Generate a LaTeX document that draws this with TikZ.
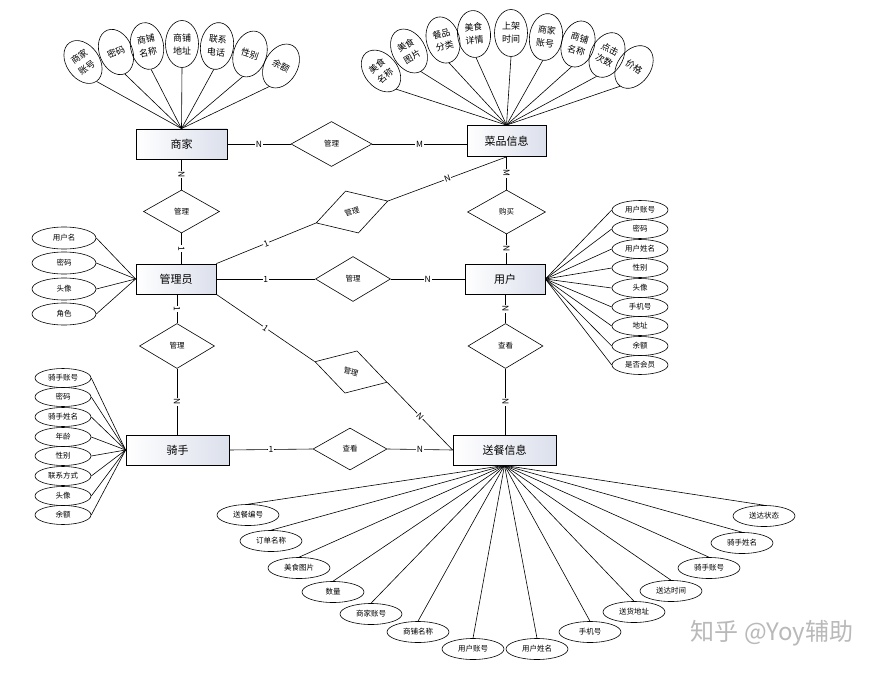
\documentclass[tikz,border=0pt]{standalone}
\usepackage{fontspec}
\newfontfamily\cjk{Noto Sans CJK SC}
\usetikzlibrary{shapes.geometric,calc}
\definecolor{entR}{HTML}{DCE0EC}
\begin{document}
\begin{tikzpicture}[x=1pt,y=-1pt, line width=0.6pt,
  ent/.style={draw, rectangle, line width=0.8pt, minimum height=30pt, left color=white, right color=entR, font=\cjk\fontsize{11}{12}\selectfont, inner sep=0pt},
  rel/.style={draw, diamond, inner sep=0pt, minimum width=75pt, minimum height=44pt, fill=white, font=\cjk\fontsize{7.5}{8}\selectfont},
  attv/.style={draw, ellipse, inner sep=0pt, minimum width=33pt, minimum height=47pt, align=center, font=\cjk\fontsize{9}{13}\selectfont},
  atth/.style={draw, ellipse, inner sep=0pt, minimum width=56pt, minimum height=19pt, font=\cjk\fontsize{7.5}{8}\selectfont},
  lbl/.style={fill=white, inner sep=0.8pt, font=\cjk\fontsize{8.5}{9}\selectfont},
]
\useasboundingbox[fill=white] (0,0) rectangle (889,674);

% entities
\node[ent, minimum width=91pt] (sj) at (181.5,144) {商家};
\node[ent, minimum width=79pt, minimum height=31pt] (cp) at (506.5,141) {菜品信息};
\node[ent, minimum width=80pt] (gly) at (176,279) {管理员};
\node[ent, minimum width=80pt] (yh) at (505,279) {用户};
\node[ent, minimum width=103pt] (qs) at (177.5,450) {骑手};
\node[ent, minimum width=103pt] (sc) at (504.5,450) {送餐信息};

% relationships
\node[rel, minimum width=81pt, minimum height=45pt] (dTop) at (331.5,144) {管理};
\node[rel, minimum width=76pt, minimum height=43pt] (d1) at (181.5,211.5) {管理};
\node[rel, rotate=17] (dR) at (352,212) {管理};
\node[rel, minimum height=45pt] (dM) at (353,279) {管理};
\node[rel, minimum width=78pt] (dBuy) at (506.5,212) {购买};
\node[rel, minimum height=45pt] (dL) at (177,346) {管理};
\node[rel, rotate=-16] (dR2) at (351,372) {管理};
\node[rel, minimum height=45pt] (dView) at (505.5,346) {查看};
\node[rel, minimum width=74pt, minimum height=42pt] (dView2) at (350,449) {查看};

% connectors with cardinalities
\draw (sj.east) -- node[lbl]{N} (dTop.west);
\draw (dTop.east) -- node[lbl]{M} (dTop.east -| cp.west);
\draw (sj.south) -- node[lbl,sloped]{N} (d1.north);
\draw (d1.south) -- node[lbl,sloped]{1} (d1.south |- gly.north);
\draw (gly.north east) -- node[lbl,sloped]{1} (dR.west);
\draw (dR.east) -- node[lbl,sloped]{N} (cp.south);
\draw (cp.south) -- node[lbl,sloped]{M} (dBuy.north);
\draw (dBuy.south) -- node[lbl,sloped]{N} (dBuy.south |- yh.north);
\draw (gly.east) -- node[lbl]{1} (dM.west);
\draw (dM.east) -- node[lbl]{N} (yh.west);
\draw (dL.north |- gly.south) -- node[lbl,sloped]{1} (dL.north);
\draw (dL.south) -- node[lbl,sloped]{N} (dL.south |- qs.north);
\draw (gly.south east) -- node[lbl,sloped]{1} (dR2.west);
\draw (dR2.east) -- node[lbl,sloped]{N} (sc.west);
\draw (dView.north |- yh.south) -- node[lbl,sloped]{N} (dView.north);
\draw (dView.south) -- node[lbl,sloped]{N} (dView.south |- sc.north);
\draw (qs.east) -- node[lbl]{1} (dView2.west);
\draw (dView2.east) -- node[lbl]{N} (sc.west);

% 商家 attributes
\foreach \n/\x/\y/\r/\t in {1/83/62/35/{商家\\账号}, 2/116/52/22/{密码}, 3/147/46/10/{商铺\\名称}, 4/182/44/0/{商铺\\地址}, 5/217/46/-8/{联系\\电话}, 6/250/54/-18/{性别}, 7/281/66/-30/{余额}}
{ \node[attv, rotate=\r] (sa\n) at (\x,\y) {\t}; \draw (sa\n.south) -- (sj.north); }

% 菜品信息 attributes
\foreach \n/\x/\y/\r/\t in {1/381/71/40/{美食\\名称}, 2/409/51/30/{美食\\图片}, 3/443/40/15/{餐品\\分类}, 4/474/34/5/{美食\\详情}, 5/511/33/0/{上架\\时间}, 6/546/37/-8/{商家\\账号}, 7/578/44/-16/{商铺\\名称}, 8/607/55/-26/{点击\\次数}, 9/634/67/-36/{价格}}
{ \node[attv, rotate=\r] (ca\n) at (\x,\y) {\t}; \draw (ca\n.south) -- (cp.north); }

% 用户 attributes
\foreach \n/\y/\t in {1/210/用户账号, 2/229/密码, 3/249/用户姓名, 4/268/性别, 5/288/头像, 6/307/手机号, 7/326/地址, 8/346/余额, 9/365/是否会员}
{ \node[atth] (ua\n) at (640,\y) {\t}; \draw (yh.east) -- (ua\n.west); }

% 管理员 attributes
\foreach \n/\y/\t in {1/238/用户名, 2/263/密码, 3/289/头像, 4/314/角色}
{ \node[atth, minimum width=64pt, minimum height=22pt] (ga\n) at (64,\y) {\t}; \draw (gly.west) -- (ga\n.east); }

% 骑手 attributes
\foreach \n/\y/\t in {1/378/骑手账号, 2/397/密码, 3/417/骑手姓名, 4/437/年龄, 5/456/性别, 6/476/联系方式, 7/496/头像, 8/515/余额}
{ \node[atth] (ra\n) at (63,\y) {\t}; \draw (qs.west) -- (ra\n.east); }

% 送餐信息 attributes
\foreach \n/\x/\y/\t in {1/248/515/送餐编号, 2/271/541/订单名称, 3/299/568/美食图片, 4/333/592/数量, 5/371/614/商家账号, 6/418/632/商铺名称, 7/473/649/用户账号, 8/537/649/用户姓名, 9/590/632/手机号, 10/634/612/送货地址, 11/671/591/送达时间, 12/709/568/骑手账号, 13/742/543/骑手姓名, 14/764/516/送达状态}
{ \node[atth, minimum width=62pt, minimum height=21pt] (da\n) at (\x,\y) {\t}; \draw (sc.south) -- (da\n.north); }

% watermark
\node[text=gray!55, font=\cjk\fontsize{24}{25}\selectfont, inner sep=0pt] (wm) at (772,633) {知乎 @Yoy辅助};
\end{tikzpicture}
\end{document}
